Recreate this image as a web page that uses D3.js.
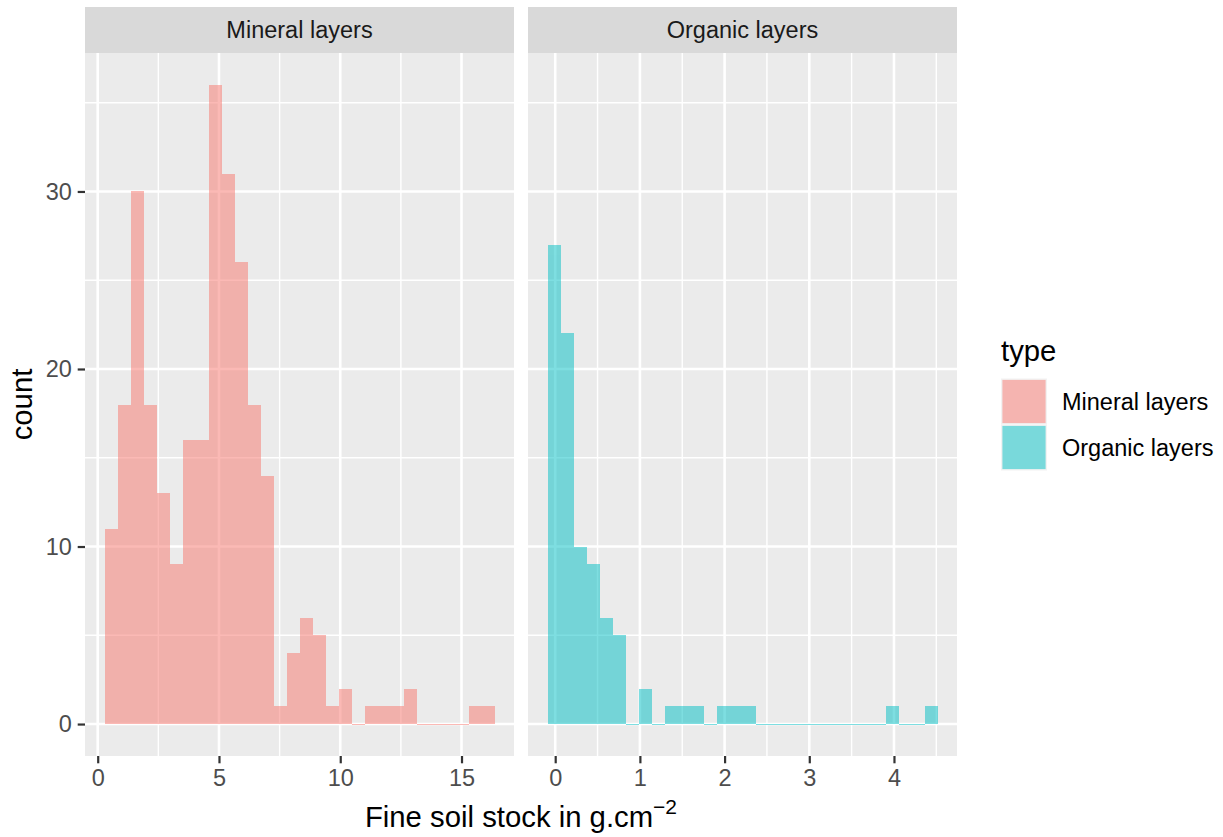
<!DOCTYPE html>
<html>
<head>
<meta charset="utf-8">
<script src="https://cdn.jsdelivr.net/npm/d3@7"></script>
<style>
  html, body { margin: 0; padding: 0; background: #ffffff; }
  svg { display: block; font-family: "Liberation Sans", Arial, Helvetica, sans-serif; }
</style>
</head>
<body>
<svg id="chart" width="1223" height="837"></svg>
<script>
// Histogram counts per bin (30 bins per layer type)
const mineralCounts = [11, 18, 30, 18, 13, 9, 16, 16, 36, 31, 26, 18, 14, 1, 4, 6, 5, 1, 2, 0, 1, 1, 1, 2, 0, 0, 0, 0, 1, 1];
const organicCounts = [27, 22, 10, 9, 6, 5, 0, 2, 0, 1, 1, 1, 0, 1, 1, 1, 0, 0, 0, 0, 0, 0, 0, 0, 0, 0, 1, 0, 0, 1];

// Bin layout in g.cm^-2
const mineralBinStart = 0.28;
const mineralBinWidth = 0.536;
const organicBinStart = -0.091;
const organicBinWidth = 0.1535;

// Facet labels and ticks
const layerTypes = ["Mineral layers", "Organic layers"];
const layerColors = ["#F8766D", "#00BFC4"];
const mineralTicks = [0, 5, 10, 15];
const organicTicks = [0, 1, 2, 3, 4];
const countTicks = [0, 10, 20, 30];

const facets = [
  { name: layerTypes[0], color: layerColors[0], counts: mineralCounts, start: mineralBinStart, width: mineralBinWidth, ticks: mineralTicks, left: 85 },
  { name: layerTypes[1], color: layerColors[1], counts: organicCounts, start: organicBinStart, width: organicBinWidth, ticks: organicTicks, left: 528 }
];

const svg = d3.select("#chart");
const panelW = 429, panelTop = 53, panelBottom = 756;
const stripTop = 7;
const tickLen = 7.3, tickPad = 5.9;
const smallFont = 23.5, bigFont = 29.3;

// Shared count scale, expanded by 5% like ggplot
const maxCount = d3.max([...mineralCounts, ...organicCounts]);
const yPad = maxCount * 0.05;
const y = d3.scaleLinear().domain([-yPad, maxCount + yPad]).range([panelBottom, panelTop]);
const yMinor = [5, 15, 25, 35].filter(v => v <= maxCount + yPad);

facets.forEach((f, idx) => {
  const lo = f.start, hi = f.start + f.counts.length * f.width;
  const pad = (hi - lo) * 0.05;
  const x = d3.scaleLinear().domain([lo - pad, hi + pad]).range([f.left, f.left + panelW]);
  const step = f.ticks[1] - f.ticks[0];
  const xMinor = [];
  for (let t = f.ticks[0] - step; t <= f.ticks[f.ticks.length - 1] + step; t += step) {
    const m = t + step / 2;
    if (m > lo - pad && m < hi + pad) xMinor.push(m);
  }

  const g = svg.append("g");
  g.append("rect").attr("x", f.left).attr("y", panelTop).attr("width", panelW).attr("height", panelBottom - panelTop).attr("fill", "#EBEBEB");

  // minor grid
  g.selectAll(".xminor").data(xMinor).enter().append("line")
    .attr("x1", d => x(d)).attr("x2", d => x(d)).attr("y1", panelTop).attr("y2", panelBottom)
    .attr("stroke", "#ffffff").attr("stroke-width", 1.4);
  g.selectAll(".yminor").data(yMinor).enter().append("line")
    .attr("x1", f.left).attr("x2", f.left + panelW).attr("y1", d => y(d)).attr("y2", d => y(d))
    .attr("stroke", "#ffffff").attr("stroke-width", 1.4);
  // major grid
  g.selectAll(".xmajor").data(f.ticks).enter().append("line")
    .attr("x1", d => x(d)).attr("x2", d => x(d)).attr("y1", panelTop).attr("y2", panelBottom)
    .attr("stroke", "#ffffff").attr("stroke-width", 2.6);
  g.selectAll(".ymajor").data(countTicks).enter().append("line")
    .attr("x1", f.left).attr("x2", f.left + panelW).attr("y1", d => y(d)).attr("y2", d => y(d))
    .attr("stroke", "#ffffff").attr("stroke-width", 2.6);

  // bars: opaque rects inside a half-transparent group so shared edges stay seamless
  const bars = g.append("g").attr("opacity", 0.5);
  bars.selectAll(".bar").data(f.counts).enter().append("rect")
    .attr("x", (d, i) => x(f.start + i * f.width))
    .attr("width", (d, i) => x(f.start + (i + 1) * f.width) - x(f.start + i * f.width))
    .attr("y", d => d > 0 ? y(d) : y(0))
    .attr("height", d => d > 0 ? y(0) - y(d) : 1)
    .attr("fill", f.color)
    .attr("shape-rendering", "crispEdges");

  // strip
  g.append("rect").attr("x", f.left).attr("y", stripTop).attr("width", panelW).attr("height", panelTop - stripTop).attr("fill", "#D9D9D9");
  g.append("text").attr("x", f.left + panelW / 2).attr("y", (stripTop + panelTop) / 2 + 8.2)
    .attr("text-anchor", "middle").attr("font-size", smallFont).attr("fill", "#1A1A1A").text(f.name);

  // x axis
  const ax = g.append("g").attr("transform", `translate(0,${panelBottom})`)
    .call(d3.axisBottom(x).tickValues(f.ticks).tickSize(tickLen).tickPadding(tickPad).tickFormat(d3.format("d")));
  ax.select(".domain").remove();
  ax.selectAll("line").attr("stroke", "#333333").attr("stroke-width", 2.2);
  ax.selectAll("text").attr("font-size", smallFont).attr("fill", "#4D4D4D").attr("font-family", null);

  if (idx === 0) {
    const ay = g.append("g").attr("transform", `translate(${f.left},0)`)
      .call(d3.axisLeft(y).tickValues(countTicks).tickSize(tickLen).tickPadding(tickPad));
    ay.select(".domain").remove();
    ay.selectAll("line").attr("stroke", "#333333").attr("stroke-width", 2.2);
    ay.selectAll("text").attr("font-size", smallFont).attr("fill", "#4D4D4D").attr("font-family", null);
  }
});

// axis titles
const xTitle = svg.append("text").attr("x", (85 + 528 + panelW) / 2).attr("y", 827)
  .attr("text-anchor", "middle").attr("font-size", bigFont).attr("fill", "#000000");
xTitle.append("tspan").text("Fine soil stock in g.cm");
xTitle.append("tspan").attr("dy", -13).attr("font-size", 21).text("\u22122");

svg.append("text").attr("transform", `translate(32,${(panelTop + panelBottom) / 2}) rotate(-90)`)
  .attr("text-anchor", "middle").attr("font-size", bigFont).attr("fill", "#000000").text("count");

// legend
const legend = svg.append("g");
legend.append("text").attr("x", 1001).attr("y", 361).attr("font-size", bigFont).attr("fill", "#000000").text("type");
const keySize = 46, keyTop = 378.5, keyLeft = 1001;
layerTypes.forEach((name, i) => {
  const ky = keyTop + i * keySize;
  legend.append("rect").attr("x", keyLeft).attr("y", ky).attr("width", keySize).attr("height", keySize).attr("fill", "#F2F2F2");
  legend.append("rect").attr("x", keyLeft + 1.4).attr("y", ky + 1.4).attr("width", keySize - 2.8).attr("height", keySize - 2.8)
    .attr("fill", layerColors[i]).attr("fill-opacity", 0.5);
  legend.append("text").attr("x", 1062).attr("y", ky + keySize / 2 + 8.2).attr("font-size", smallFont).attr("fill", "#000000").text(name);
});
</script>
</body>
</html>
